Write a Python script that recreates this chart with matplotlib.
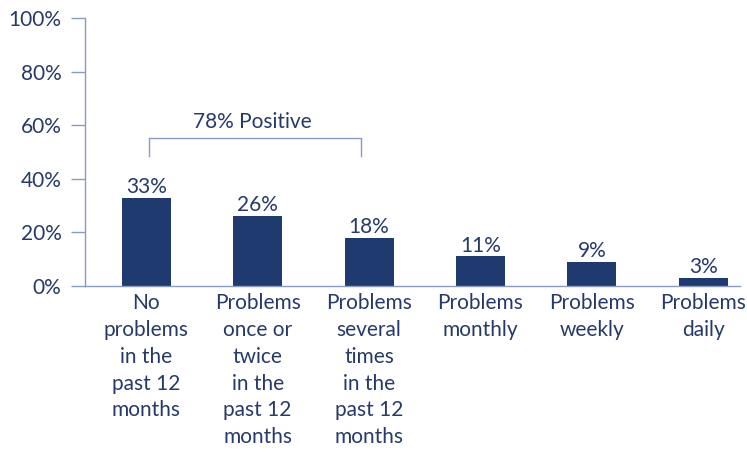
import matplotlib.pyplot as plt

categories = ['No\nproblems\nin the\npast 12\nmonths',
              'Problems\nonce or\ntwice\nin the\npast 12\nmonths',
              'Problems\nseveral\ntimes\nin the\npast 12\nmonths',
              'Problems\nmonthly',
              'Problems\nweekly',
              'Problems\ndaily']
values = [33, 26, 18, 11, 9, 3]
bracket_label = '78% Positive'

navy = '#1f3a6e'
text_col = '#253a6b'
axis_col = '#8a9ac6'

plt.rcParams['font.family'] = ['Lato', 'DejaVu Sans']

fig = plt.figure(figsize=(7.47, 4.53), dpi=100)
ax = fig.add_axes([0.1138, 0.3687, 0.8768, 0.5916])

x = range(len(values))
ax.bar(x, values, width=0.44, color=navy)
for i, v in enumerate(values):
    ax.text(i, v + 0.3, f'{v}%', ha='center', va='bottom', fontsize=15, color=text_col)

# bracket over the first three bars
ax.plot([0.02, 0.02, 1.93, 1.93], [48.5, 55.2, 55.2, 48.5], color=axis_col, lw=1)
ax.text(0.95, 57.3, bracket_label, ha='center', va='bottom', fontsize=15, color=text_col)

ax.set_xlim(-0.55, 5.33)
ax.set_ylim(0, 100)
ax.set_yticks(range(0, 101, 20))
ax.set_yticklabels([f'{t}%' for t in range(0, 101, 20)])
ax.set_xticks(list(x))
ax.set_xticklabels(categories, linespacing=1.43)
ax.tick_params(axis='y', colors=axis_col, labelcolor=text_col, labelsize=15, length=10, width=1, pad=7)
ax.tick_params(axis='x', length=0, labelcolor=text_col, labelsize=15, pad=5)
for s in ['top', 'right']:
    ax.spines[s].set_visible(False)
for s in ['left', 'bottom']:
    ax.spines[s].set_color(axis_col)
    ax.spines[s].set_linewidth(1)

fig.savefig('out.png', dpi=100)
